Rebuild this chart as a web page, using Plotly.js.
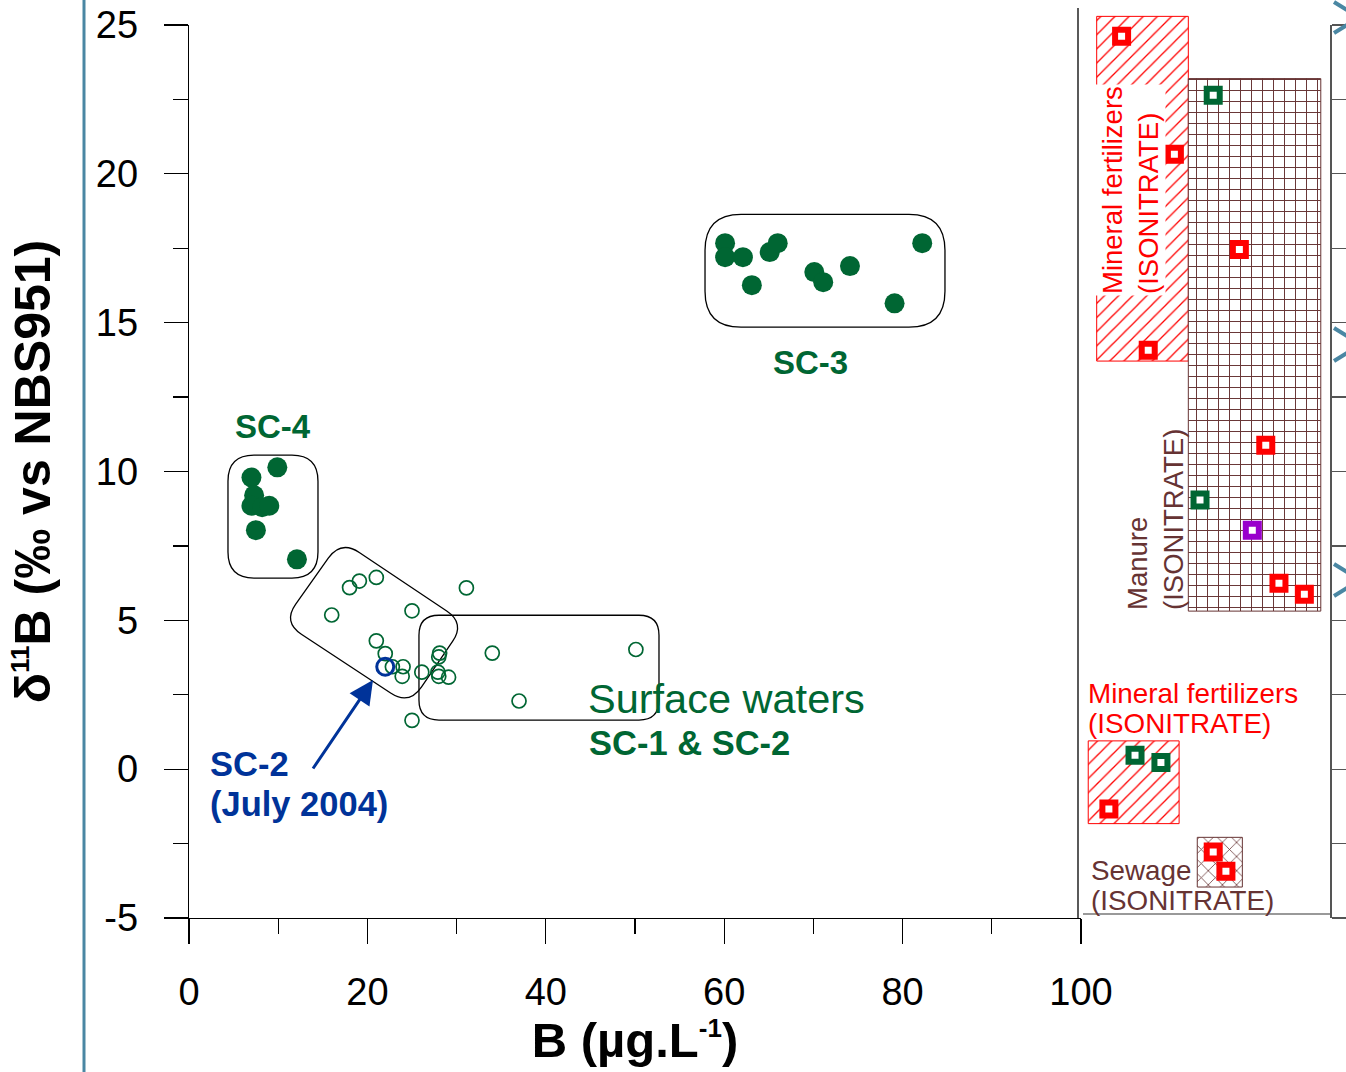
<!DOCTYPE html>
<html><head><meta charset="utf-8">
<script src="https://cdn.plot.ly/plotly-3.0.1.min.js"></script>
<style>html,body{margin:0;padding:0;background:#fff;overflow:hidden}</style>
</head><body><div id="chart" style="width:1346px;height:1072px"></div>
<script>
// ---------------- data ----------------
// SC-3 (filled circles)
const sc3B = [60.1, 60.1, 62.1, 65.1, 66.0, 63.1, 70.1, 71.1, 74.1, 82.2, 79.1];
const sc3D = [17.67, 17.2, 17.2, 17.37, 17.67, 16.26, 16.7, 16.36, 16.9, 17.67, 15.65];
// SC-4 (filled circles)
const sc4B = [9.9, 7.0, 7.3, 7.0, 8.2, 9.0, 7.5, 12.1];
const sc4D = [10.14, 9.8, 9.2, 8.85, 8.8, 8.85, 8.03, 7.05];
// Surface waters SC-1 & SC-2 (open circles)
const swB = [18.0, 19.1, 21.0, 31.1, 16.0, 25.0, 21.0, 22.0, 28.1, 28.0, 34.0, 50.1, 22.8, 24.0, 23.9, 26.1, 27.9, 28.0, 29.1, 37.0, 25.0];
const swD = [6.10, 6.32, 6.44, 6.09, 5.18, 5.32, 4.31, 3.88, 3.90, 3.77, 3.90, 4.02, 3.44, 3.44, 3.12, 3.26, 3.26, 3.12, 3.09, 2.29, 1.64];
// SC-2 July 2004
const julB = [22.0];
const julD = [3.44];
// right panel (ISONITRATE end-members), x is a position index inside the panel
const mfTopPos = [1.63, 3.75, 2.70];
const mfTopD   = [24.62, 20.66, 14.07];
const manGreenPos = [5.31, 4.78];
const manGreenD   = [22.64, 9.04];
const manRedPos = [6.36, 7.42, 7.95, 8.97];
const manRedD   = [17.46, 10.88, 6.25, 5.88];
const manPurplePos = [6.88];
const manPurpleD   = [8.03];
const mfLowGreenPos = [2.17, 3.21];
const mfLowGreenD   = [0.47, 0.22];
const mfLowRedPos = [1.12];
const mfLowRedD   = [-1.34];
const sewRedPos = [5.31, 5.82];
const sewRedD   = [-2.78, -3.43];
// end-member ranges [posMin, posMax, dMin, dMax]
const mfTopRange = [0.63, 4.31, 13.71, 25.29];
const manureRange = [4.31, 9.63, 5.31, 23.2];
const mfLowRange = [0.29, 3.94, -1.83, 0.95];
const sewageRange = [4.67, 6.48, -3.96, -2.29];
// axis ticks
const xTicks = [0, 20, 40, 60, 80, 100];
const xTickText = ['0', '20', '40', '60', '80', '100'];
const yTicks = [-5, 0, 5, 10, 15, 20, 25];
const yTickText = ['-5', '0', '5', '10', '15', '20', '25'];

// ---------------- geometry helpers ----------------
const W = 1346, H = 1072;
const ML = 189, MR = 16, MT = 8, MB = 154;
const PW = W - ML - MR, PH = H - MT - MB;      // plot area
const X0PX = 189, X1PX = 1081;                 // x: 0..100
const Y0PX = 918, Y1PX = 25;                   // y: -5..25
const xDom = (X1PX - ML) / PW;
const yDom = (Y0PX - Y1PX) / PH;
const y3Top = -5 + 30 * PH / (Y0PX - Y1PX);
const GREEN = '#006633', BLUE = '#003399', RED = '#ff0000', BROWN = '#663333', PURPLE = '#9900cc', TEAL = '#4a87a3';
const FONT = 'Liberation Sans, Arial, sans-serif';

const xToPx = x => X0PX + x * (X1PX - X0PX) / 100;
const pxToX = p => (p - X0PX) * 100 / (X1PX - X0PX);
const yToPx = y => Y0PX - (y + 5) * (Y0PX - Y1PX) / 30;
const pxToY = p => (Y0PX - p) * 30 / (Y0PX - Y1PX) - 5;
const paperX = p => (p - ML) / PW;
const paperY = p => (MT + PH - p) / PH;

function roundedPath(corners, r) {
  const P = corners.map(([x, y]) => [xToPx(x), yToPx(y)]);
  const n = P.length;
  const f = ([px, py]) => pxToX(px).toFixed(4) + ',' + pxToY(py).toFixed(4);
  let d = '';
  for (let i = 0; i < n; i++) {
    const c = P[i], pr = P[(i - 1 + n) % n], nx = P[(i + 1) % n];
    const u = (a, b) => { const dx = a[0] - b[0], dy = a[1] - b[1], l = Math.hypot(dx, dy); return [dx / l, dy / l]; };
    const u1 = u(pr, c), u2 = u(nx, c);
    const a = [c[0] + r * u1[0], c[1] + r * u1[1]];
    const b = [c[0] + r * u2[0], c[1] + r * u2[1]];
    d += (i === 0 ? 'M' : 'L') + f(a) + ' Q' + f(c) + ' ' + f(b) + ' ';
  }
  return d + 'Z';
}
const outlines = [
  {c: [[4.37, 10.55], [14.46, 10.55], [14.46, 6.42], [4.37, 6.42]], r: 26},
  {c: [[57.85, 18.64], [84.75, 18.64], [84.75, 14.85], [57.85, 14.85]], r: 36},
  {c: [[25.78, 5.17], [52.69, 5.17], [52.69, 1.65], [25.78, 1.65]], r: 20},
  {c: [[17.04, 7.69], [30.94, 4.90], [24.66, 2.15], [10.54, 4.94]], r: 22}
];

// ---------------- traces ----------------
function rectTrace(rg, shape, col, size, sol, lineCol) {
  return {
    type: 'scatter', mode: 'lines', xaxis: 'x2', yaxis: 'y3',
    x: [rg[0], rg[1], rg[1], rg[0], rg[0]],
    y: [rg[2], rg[2], rg[3], rg[3], rg[2]],
    fill: 'toself', fillcolor: 'rgba(255,255,255,1)',
    fillpattern: {shape: shape, fgcolor: col, bgcolor: '#ffffff', size: size, solidity: sol, fillmode: 'replace'},
    line: {color: lineCol, width: 1}, hoverinfo: 'skip', showlegend: false
  };
}
function sqTrace(xs, ys, col) {
  return {
    type: 'scatter', mode: 'markers', xaxis: 'x2', yaxis: 'y3', x: xs, y: ys,
    marker: {symbol: 'square', size: 13, color: '#ffffff', line: {color: col, width: 6}},
    showlegend: false, cliponaxis: false
  };
}
const traces = [
  {type: 'scatter', mode: 'markers', x: swB, y: swD, name: 'SC-1 & SC-2',
   marker: {symbol: 'circle-open', size: 14, color: GREEN, line: {color: GREEN, width: 1.7}}, showlegend: false},
  {type: 'scatter', mode: 'markers', x: julB, y: julD, name: 'SC-2 (July 2004)',
   marker: {symbol: 'circle-open', size: 17, color: BLUE, line: {color: BLUE, width: 3}}, showlegend: false},
  {type: 'scatter', mode: 'markers', x: sc4B, y: sc4D, name: 'SC-4',
   marker: {symbol: 'circle', size: 20, color: GREEN}, showlegend: false},
  {type: 'scatter', mode: 'markers', x: sc3B, y: sc3D, name: 'SC-3',
   marker: {symbol: 'circle', size: 20, color: GREEN}, showlegend: false},
  rectTrace(mfTopRange, '/', RED, 10, 0.13, RED),
  rectTrace(manureRange, '+', BROWN, 11, 0.17, BROWN),
  rectTrace(mfLowRange, '/', RED, 10, 0.13, RED),
  rectTrace(sewageRange, 'x', BROWN, 10, 0.15, BROWN),
  sqTrace(mfTopPos, mfTopD, RED),
  sqTrace(manGreenPos, manGreenD, GREEN),
  sqTrace(manRedPos, manRedD, RED),
  sqTrace(manPurplePos, manPurpleD, PURPLE),
  sqTrace(mfLowGreenPos, mfLowGreenD, GREEN),
  sqTrace(mfLowRedPos, mfLowRedD, RED),
  sqTrace(sewRedPos, sewRedD, RED)
];

// ---------------- shapes ----------------
const shapes = outlines.map(o => ({type: 'path', xref: 'x', yref: 'y', path: roundedPath(o.c, o.r),
  line: {color: '#000', width: 1.3}, fillcolor: 'rgba(0,0,0,0)', layer: 'below'}));
// left teal rule
shapes.push({type: 'line', xref: 'paper', yref: 'paper', x0: paperX(84), x1: paperX(84), y0: paperY(0), y1: paperY(1072), line: {color: TEAL, width: 3}});
// x-axis line extension to the left
shapes.push({type: 'line', xref: 'paper', yref: 'paper', x0: paperX(164), x1: paperX(189), y0: paperY(918), y1: paperY(918), line: {color: '#000', width: 1.3}});
// right panel frame: left rule and bottom rule
shapes.push({type: 'line', xref: 'paper', yref: 'paper', x0: paperX(1078), x1: paperX(1078), y0: paperY(8), y1: paperY(918), line: {color: '#000', width: 1.3}});
shapes.push({type: 'line', xref: 'paper', yref: 'paper', x0: paperX(1083), x1: paperX(1330), y0: paperY(914), y1: paperY(914), line: {color: '#777', width: 1.5}});
// cropped teal glyph fragments at right edge
[[2, 33], [328, 361], [564, 596]].forEach(([a, b]) => {
  shapes.push({type: 'line', xref: 'paper', yref: 'paper', x0: paperX(1334), x1: paperX(1347), y0: paperY(a), y1: paperY(a + 8), line: {color: TEAL, width: 4}});
  shapes.push({type: 'line', xref: 'paper', yref: 'paper', x0: paperX(1334), x1: paperX(1347), y0: paperY(b), y1: paperY(b - 8), line: {color: TEAL, width: 4}});
});

// ---------------- annotations ----------------
const ann = (text, x, y, o) => Object.assign({text: text, x: x, y: y, xref: 'x', yref: 'y', showarrow: false,
  xanchor: 'center', yanchor: 'middle', font: {family: FONT, size: 33, color: GREEN}}, o || {});
const annotations = [
  ann('<b>SC-4</b>', 9.42, 11.52),
  ann('<b>SC-3</b>', 69.7, 13.67),
  ann('Surface waters', 44.5, 2.38, {xanchor: 'left', font: {family: FONT, size: 41.5, color: GREEN}}),
  ann('<b>SC-1 &amp; SC-2</b>', 44.6, 0.87, {xanchor: 'left', font: {family: FONT, size: 34.5, color: GREEN}}),
  ann('<b>SC-2</b>', 2.1, 0.17, {xanchor: 'left', font: {family: FONT, size: 34.5, color: BLUE}}),
  ann('<b>(July 2004)</b>', 2.1, -1.18, {xanchor: 'left', font: {family: FONT, size: 34.5, color: BLUE}}),
  {text: '', x: pxToX(373), y: pxToY(680), xref: 'x', yref: 'y', showarrow: true, ax: -61, ay: 90,
   arrowhead: 2, arrowsize: 1.6, arrowwidth: 3, arrowcolor: BLUE},
  // right panel labels
  {text: 'Mineral fertilizers<br>(ISONITRATE)', textangle: -90, align: 'left', xref: 'x2', yref: 'y3',
   x: (1130 - 1081) / 24.9, y: pxToY(190), showarrow: false, bgcolor: '#ffffff', borderpad: 1,
   font: {family: FONT, size: 27.5, color: RED}},
  {text: 'Manure<br>(ISONITRATE)', textangle: -90, align: 'left', xref: 'x2', yref: 'y3',
   x: (1155 - 1081) / 24.9, y: pxToY(520), showarrow: false,
   font: {family: FONT, size: 27.5, color: BROWN}},
  {text: 'Mineral fertilizers', xref: 'x2', yref: 'y3', x: (1086 - 1081) / 24.9, y: pxToY(693), xanchor: 'left', showarrow: false,
   font: {family: FONT, size: 27.8, color: RED}},
  {text: '(ISONITRATE)', xref: 'x2', yref: 'y3', x: (1086 - 1081) / 24.9, y: pxToY(723), xanchor: 'left', showarrow: false,
   font: {family: FONT, size: 27.8, color: RED}},
  {text: 'Sewage', xref: 'x2', yref: 'y3', x: (1089 - 1081) / 24.9, y: pxToY(870), xanchor: 'left', showarrow: false,
   font: {family: FONT, size: 27.8, color: BROWN}},
  {text: '(ISONITRATE)', xref: 'x2', yref: 'y3', x: (1089 - 1081) / 24.9, y: pxToY(900), xanchor: 'left', showarrow: false,
   font: {family: FONT, size: 27.8, color: BROWN}}
];

// ---------------- layout ----------------
const layout = {
  width: W, height: H, paper_bgcolor: '#fff', plot_bgcolor: 'rgba(0,0,0,0)',
  margin: {l: ML, r: MR, t: MT, b: MB, pad: 0}, showlegend: false,
  font: {family: FONT, color: '#000'},
  xaxis: {domain: [0, xDom], range: [0, 100], anchor: 'y', tickmode: 'array', tickvals: xTicks, ticktext: xTickText,
    ticks: 'outside', ticklen: 25, tickwidth: 1.3,
    tickcolor: '#000', showline: true, linecolor: '#000', linewidth: 1.3, showgrid: false, zeroline: false,
    tickfont: {family: FONT, size: 38, color: '#000'}, ticklabelstandoff: 15,
    minor: {dtick: 10, tick0: 0, ticks: 'outside', ticklen: 15, tickwidth: 1.3, tickcolor: '#000', showgrid: false},
    title: {text: '<b>B (µg.L<sup><span style="font-size:26px">-1</span></sup>)</b>', font: {family: FONT, size: 49, color: '#000'}, standoff: 4}},
  yaxis: {domain: [0, yDom], range: [-5, 25], anchor: 'x', tickmode: 'array', tickvals: yTicks, ticktext: yTickText,
    ticks: 'outside', ticklen: 24, tickwidth: 1.3,
    tickcolor: '#000', showline: true, linecolor: '#000', linewidth: 1.3, showgrid: false, zeroline: false,
    tickfont: {family: FONT, size: 38, color: '#000'}, ticklabelstandoff: 18,
    minor: {dtick: 2.5, tick0: 0, ticks: 'outside', ticklen: 15, tickwidth: 1.3, tickcolor: '#000', showgrid: false},
    title: {text: '<b>δ<sup><span style="font-size:26px">11</span></sup>B (‰ vs NBS951)</b>', font: {family: FONT, size: 50, color: '#000'}, standoff: 29}},
  yaxis2: {overlaying: 'y', anchor: 'free', position: 1, side: 'right', range: [-5, 25], tickmode: 'array', tickvals: yTicks,
    ticks: 'outside', ticklen: 24, tickwidth: 1.3, tickcolor: '#555', showticklabels: false, showline: true,
    linecolor: '#555', linewidth: 1.5, showgrid: false, zeroline: false,
    minor: {dtick: 2.5, tick0: 0, ticks: 'outside', ticklen: 15, tickwidth: 1.3, tickcolor: '#555', showgrid: false}},
  xaxis2: {domain: [xDom, 1], range: [0, 10], anchor: 'y3', showline: false, showticklabels: false, ticks: '',
    showgrid: false, zeroline: false},
  yaxis3: {domain: [0, 1], range: [-5, y3Top], anchor: 'x2', showline: false, showticklabels: false, ticks: '',
    showgrid: false, zeroline: false},
  shapes: shapes, annotations: annotations
};
traces.push({type: 'scatter', mode: 'markers', x: [], y: [], yaxis: 'y2', xaxis: 'x', showlegend: false, hoverinfo: 'skip'});
Plotly.newPlot('chart', traces, layout, {staticPlot: true, displayModeBar: false});
</script>
</body></html>
